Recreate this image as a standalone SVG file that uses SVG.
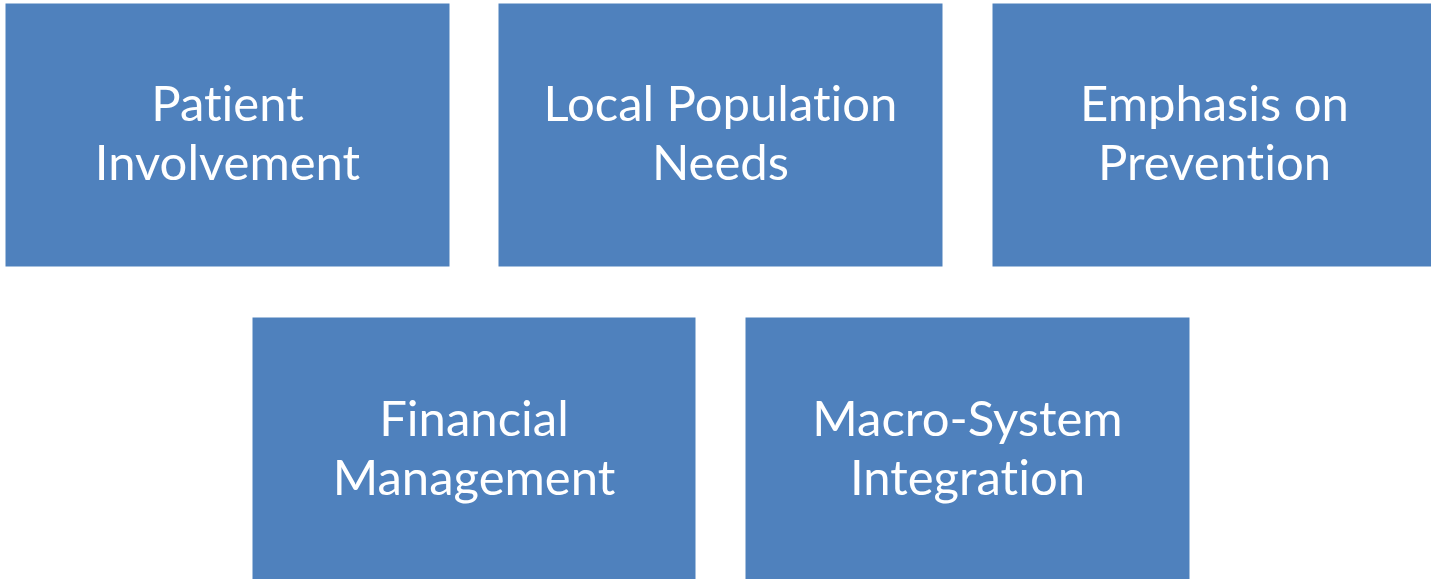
<svg xmlns="http://www.w3.org/2000/svg" width="1431" height="579" viewBox="0 0 1431 579">
<style>
.box{fill:#4F81BD;stroke:#4F81BD;stroke-width:1}
.lbl{font-family:Lato,"Open Sans","Liberation Sans",sans-serif;font-size:49px;fill:#FFFFFF;text-anchor:middle;font-variant-ligatures:none}
</style>
<rect width="1431" height="579" fill="#FFFFFF"/>
<g id="node-patient">
<rect class="box" x="6" y="4" width="443" height="262"/>
<text class="lbl" x="227.5" y="121">Patient</text>
<text class="lbl" x="227.5" y="180">Involvement</text>
</g>
<g id="node-local">
<rect class="box" x="499" y="4" width="443" height="262"/>
<text class="lbl" x="720.5" y="121">Local Population</text>
<text class="lbl" x="720.5" y="180">Needs</text>
</g>
<g id="node-prevention">
<rect class="box" x="993" y="4" width="443" height="262"/>
<text class="lbl" x="1214.5" y="121">Emphasis on</text>
<text class="lbl" x="1214.5" y="180">Prevention</text>
</g>
<g id="node-financial">
<rect class="box" x="253" y="318" width="442" height="262"/>
<text class="lbl" x="474" y="436">Financial</text>
<text class="lbl" x="474" y="495">Management</text>
</g>
<g id="node-macro">
<rect class="box" x="746" y="318" width="443" height="262"/>
<text class="lbl" x="967.5" y="436">Macro-System</text>
<text class="lbl" x="967.5" y="495">Integration</text>
</g>
<g id="connectors"></g>
</svg>
